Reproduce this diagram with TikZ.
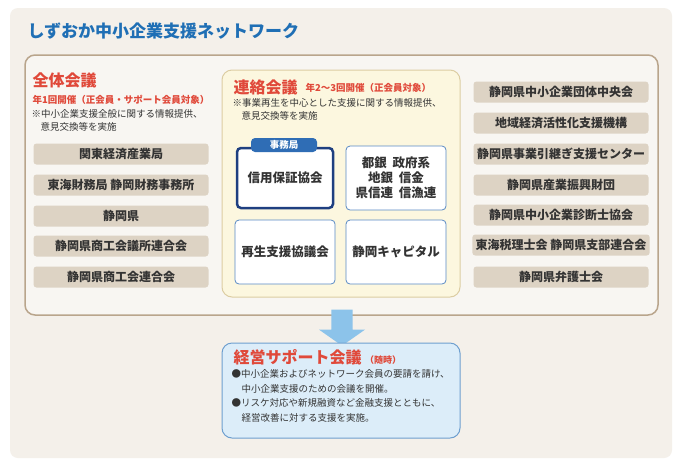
\documentclass[tikz,border=0pt]{standalone}
\usepackage{fontspec}
\setmainfont{Noto Sans CJK JP}
\usetikzlibrary{positioning, shapes.arrows}
\definecolor{bgpaper}{HTML}{F4F0EA}
\definecolor{ttlblue}{HTML}{1F6FB5}
\definecolor{redtxt}{HTML}{E0493A}
\definecolor{tanbox}{HTML}{DDD3C4}
\definecolor{frame}{HTML}{B9A58C}
\definecolor{ylwbg}{HTML}{FCF7DF}
\definecolor{ylwln}{HTML}{DCCDA3}
\definecolor{navy}{HTML}{1E3F80}
\definecolor{midblue}{HTML}{2F6DB5}
\definecolor{lblue}{HTML}{DCEDF9}
\definecolor{lbline}{HTML}{6E9FCF}
\definecolor{arrowblue}{HTML}{8CC3EA}
\definecolor{txt}{HTML}{333333}
\tikzset{
  member/.style={rectangle, rounded corners=3pt, fill=tanbox, minimum width=175pt, minimum height=21pt, text=txt, font=\fontsize{12}{12}\selectfont\bfseries},
  inbox/.style={rectangle, rounded corners=4pt, draw=midblue!80, line width=0.8pt, fill=white, minimum width=100pt, minimum height=64pt, text=txt, font=\fontsize{12.5}{15}\selectfont\bfseries, align=center},
  note/.style={anchor=north west, text=txt, font=\fontsize{9.5}{13}\selectfont, align=left},
  head/.style={anchor=west, text=redtxt, font=\fontsize{16}{16}\selectfont\bfseries}
}
\begin{document}
\begin{tikzpicture}[x=1pt, y=-1pt]
  \useasboundingbox (0,0) rectangle (682,467);
  \fill[white] (0,0) rectangle (682,467);
  \fill[bgpaper, rounded corners=8pt] (10,8) rectangle (672,458);
  \node (title) [anchor=west, text=ttlblue, font=\fontsize{17}{17}\selectfont\bfseries] at (24,31) {しずおか中小企業支援ネットワーク};
  \draw[frame, line width=1.5pt, fill=bgpaper!60!white, rounded corners=10pt] (25,55) rectangle (658,315);

  % zentai kaigi
  \node (zhead) [head] at (29,80) {全体会議};
  \node (zsub) [anchor=west, text=redtxt, font=\fontsize{9.5}{10}\selectfont\bfseries] at (29,100) {年1回開催（正会員・サポート会員対象）};
  \node (znote) [note] at (28,106) {※中小企業支援全般に関する情報提供、\\\hspace{9pt}意見交換等を実施};
  \foreach \y/\name/\txt in {154/l1/関東経済産業局, 185/l2/東海財務局 静岡財務事務所, 216/l3/静岡県, 246/l4/静岡県商工会議所連合会, 277/l5/静岡県商工会連合会}
    \node (\name) [member] at (121,\y) {\txt};

  \foreach \y/\name/\txt in {92/r1/静岡県中小企業団体中央会, 123/r2/地域経済活性化支援機構, 154/r3/静岡県事業引継ぎ支援センター, 185/r4/静岡県産業振興財団, 215/r5/静岡県中小企業診断士協会, 245/r6/東海税理士会 静岡県支部連合会, 277/r7/静岡県弁護士会}
    \node (\name) [member] at (561,\y) {\txt};

  % renraku kaigi
  \draw[ylwln, line width=1pt, fill=ylwbg, rounded corners=10pt] (222,70) rectangle (460,297);
  \node (rhead) [head] at (230,87) {連絡会議};
  \node (rsub) [anchor=west, text=redtxt, font=\fontsize{9.5}{10}\selectfont\bfseries] at (302,88) {年2〜3回開催（正会員対象）};
  \node (rnote) [note] at (229,95) {※事業再生を中心とした支援に関する情報提供、\\\hspace{9pt}意見交換等を実施};
  \node (shinyo) [inbox, draw=navy, line width=2.5pt, minimum width=96pt, minimum height=60pt] at (285,178) {信用保証協会};
  \node (jimu) [rectangle, rounded corners=4pt, fill=midblue, text=white, minimum width=66pt, minimum height=14pt, inner sep=1pt, font=\fontsize{9.5}{9.5}\selectfont\bfseries] at (284,145) {事務局};
  \node (banks) [inbox] at (396,178) {都銀\ \ 政府系\\地銀\ \ 信金\\県信連\ \ 信漁連};
  \node (saisei) [inbox] at (285,252) {再生支援協議会};
  \node (capital) [inbox] at (396,252) {静岡キャピタル};

  % keiei support
  \node (arrow) [single arrow, shape border rotate=270, fill=arrowblue, minimum width=46pt, single arrow head extend=6pt, single arrow tip angle=110, minimum height=36pt, inner sep=5pt] at (342,324) {};
  \draw[lbline, line width=1pt, fill=lblue, rounded corners=10pt] (222,343) rectangle (460,438);
  \node (khead) [head] at (230,357) {経営サポート会議 {\fontsize{9}{9}\selectfont（随時）}};
  \node (knote) [note, font=\fontsize{9.5}{14.5}\selectfont] at (228,366) {●中小企業およびネットワーク会員の要請を請け、\\\hspace{10pt}中小企業支援のための会議を開催。\\●リスケ対応や新規融資など金融支援とともに、\\\hspace{10pt}経営改善に対する支援を実施。};
\end{tikzpicture}
\end{document}
